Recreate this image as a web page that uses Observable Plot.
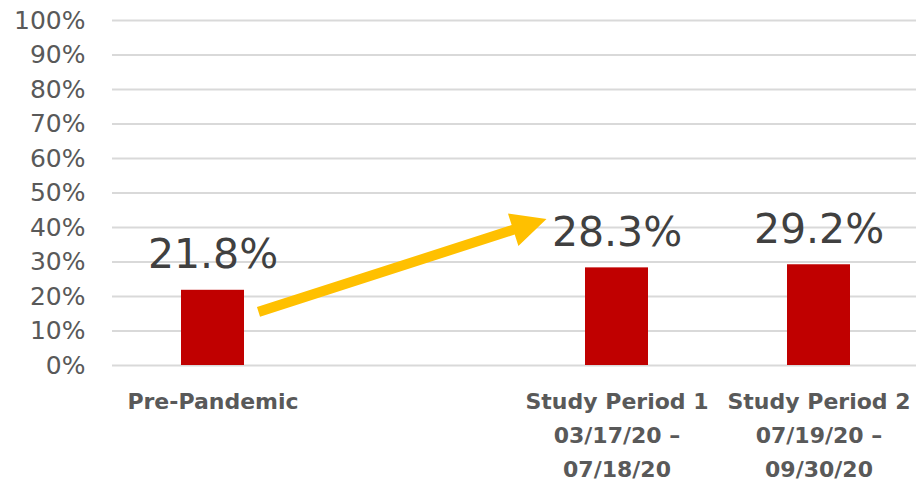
<!DOCTYPE html>
<html><head><meta charset="utf-8">
<script src="https://cdn.jsdelivr.net/npm/d3@7"></script>
<script src="https://cdn.jsdelivr.net/npm/@observablehq/plot@0.6"></script>
<style>body{margin:0;background:#fff;}</style>
</head><body><div id="chart"></div>
<script>
// Data
const categories = ["Pre-Pandemic", "", "Study Period 1", "Study Period 2"];
const values = [0.218, null, 0.283, 0.292];
const valueLabels = ["21.8%", "", "28.3%", "29.2%"];
const categoryLabels = ["Pre-Pandemic", "", "Study Period 1\n03/17/20 \u2013\n07/18/20", "Study Period 2\n07/19/20 \u2013\n09/30/20"];
const yTicks = [0, 0.1, 0.2, 0.3, 0.4, 0.5, 0.6, 0.7, 0.8, 0.9, 1.0];
// Arrow annotation (from near Pre-Pandemic bar to Study Period 1 label)
const arrowFrom = {category: "Pre-Pandemic", value: 0.154};
const arrowTo = {category: "Study Period 1", value: 0.423};

const data = categories.map((c, i) => ({category: c, value: values[i], label: valueLabels[i], catLabel: categoryLabels[i]}));
const bars = data.filter(d => d.value != null);

const plot = Plot.plot({
  width: 916,
  height: 485,
  marginTop: 20,
  marginBottom: 120,
  marginLeft: 112,
  marginRight: 0,
  style: {fontFamily: "DejaVu Sans", fontSize: "25px", color: "#595959", background: "#fff"},
  x: {domain: categories, range: [112, 920], paddingInner: 0.688, paddingOuter: 0.344, axis: null},
  y: {domain: [0, 1], ticks: yTicks, tickFormat: d3.format(".0%"), tickSize: 0, tickPadding: 27, label: null},
  marks: [
    Plot.ruleY(yTicks, {stroke: "#D9D9D9", strokeWidth: 2}),
    Plot.barY(bars, {x: "category", y: "value", fill: "#C00000"}),
    Plot.text(bars, {x: "category", y: "value", text: "label", dy: -22, lineAnchor: "bottom", fontSize: 41, fill: "#404040"}),
    Plot.text(data, {x: "category", frameAnchor: "bottom", text: "catLabel", dy: 19, lineAnchor: "top", fontSize: 22, fontWeight: "bold", lineHeight: 1.55, fill: "#595959"})
  ]
});

// Arrow drawn through the plot's scales
const xs = plot.scale("x"), ys = plot.scale("y");
const cx = c => xs.apply(c) + xs.bandwidth / 2;
const T = [cx(arrowFrom.category) + 46, ys.apply(arrowFrom.value)];
const P = [cx(arrowTo.category) - 70, ys.apply(arrowTo.value)];
const L = Math.hypot(P[0] - T[0], P[1] - T[1]);
const u = [(P[0] - T[0]) / L, (P[1] - T[1]) / L];
const n = [-u[1], u[0]];
const headLen = 35, headHalf = 17, shaftHalf = 5;
const B = [P[0] - headLen * u[0], P[1] - headLen * u[1]];
const pts = [
  [T[0] + shaftHalf * n[0], T[1] + shaftHalf * n[1]],
  [B[0] + shaftHalf * n[0], B[1] + shaftHalf * n[1]],
  [B[0] + headHalf * n[0], B[1] + headHalf * n[1]],
  P,
  [B[0] - headHalf * n[0], B[1] - headHalf * n[1]],
  [B[0] - shaftHalf * n[0], B[1] - shaftHalf * n[1]],
  [T[0] - shaftHalf * n[0], T[1] - shaftHalf * n[1]]
];
d3.select(plot).append("path")
  .attr("d", "M" + pts.map(p => p.join(",")).join("L") + "Z")
  .attr("fill", "#FFC000");

document.getElementById("chart").appendChild(plot);
</script>
</body></html>
